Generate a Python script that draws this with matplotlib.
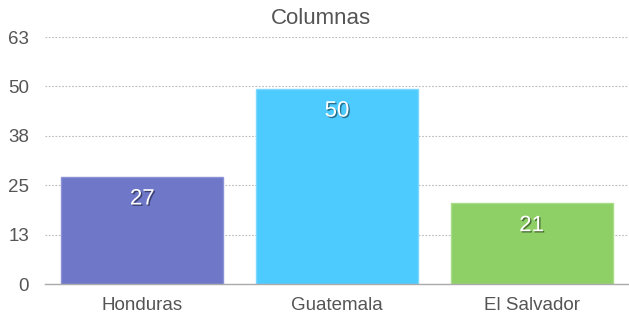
import matplotlib.pyplot as plt
import matplotlib.patheffects as pe
import numpy as np

plt.rcParams['font.family'] = ['Liberation Sans', 'DejaVu Sans']

categories = ['Honduras', 'Guatemala', 'El Salvador']
values = [27.4, 49.8, 20.6]
colors = ['#6f77c8', '#4dcbff', '#8ecf66']
edges = ['#8c92d6', '#7dd8ff', '#a8dc88']
ytick_vals = [0, 12.6, 25.2, 37.8, 50.4, 63]

fig = plt.figure(figsize=(6.29, 3.18), dpi=100)
ax = fig.add_axes([0.0715, 0.106, 0.9285, 0.7776])

x = np.arange(len(categories))
bars = ax.bar(x, values, width=0.833, color=colors, edgecolor=edges, linewidth=1, zorder=3)

for b, v in zip(bars, values):
    t = ax.annotate(f'{round(v)}', (b.get_x() + b.get_width() / 2, v),
                    xytext=(0, -16), textcoords='offset points',
                    ha='center', va='center', color='white', fontsize=16, zorder=4)
    t.set_path_effects([pe.withSimplePatchShadow(offset=(1, -1), shadow_rgbFace='black', alpha=0.45)])

ax.set_xlim(-0.5, 2.5)
ax.set_ylim(0, 63)
ax.set_yticks(ytick_vals)
ax.set_yticklabels([f'{round(v)}' for v in ytick_vals])
ax.set_xticks(x)
ax.set_xticklabels(categories)
ax.tick_params(axis='both', length=0, labelsize=13.5, colors='#555555')
ax.tick_params(axis='y', pad=11.5)
ax.tick_params(axis='x', pad=9)

ax.yaxis.grid(True, linestyle=(0, (1.5, 1.5)), color='#bbbbbb', linewidth=0.8, zorder=0)
for s in ['top', 'right', 'left']:
    ax.spines[s].set_visible(False)
ax.spines['bottom'].set_color('#aaaaaa')
ax.spines['bottom'].set_linewidth(1)
ax.spines['bottom'].set_zorder(5)

fig.text(321 / 629, 1 - 18 / 318, 'Columnas', fontsize=16, color='#555555',
         ha='center', va='center')

fig.savefig('out.png', dpi=100)
